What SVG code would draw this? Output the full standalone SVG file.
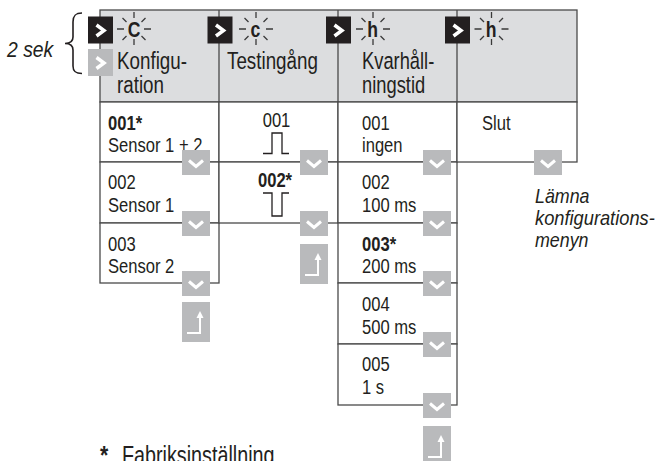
<svg xmlns="http://www.w3.org/2000/svg" xmlns:xlink="http://www.w3.org/1999/xlink" width="665" height="461" viewBox="0 0 665 461">
<style>
.bg{fill:#ffffff}
.hd{fill:#dcdddf;stroke:#4a4a4a;stroke-width:1.3}
.cell{fill:#ffffff;stroke:#4a4a4a;stroke-width:1.3}
.ln{stroke:#4a4a4a;stroke-width:1.3;fill:none}
.t{font-family:"Liberation Sans",Arial,sans-serif;font-size:21px;fill:#231f20}
.th{font-family:"Liberation Sans",Arial,sans-serif;font-size:23.5px;fill:#231f20}
.tf{font-family:"Liberation Sans",Arial,sans-serif;font-size:25px;fill:#231f20}
.b{font-weight:bold}
.i{font-style:italic}
.m{text-anchor:middle}
.sl{font-family:"Liberation Sans",Arial,sans-serif;font-size:22px;font-weight:bold;fill:#231f20;text-anchor:middle}
.ray{stroke:#3a3a3a;stroke-width:1.3;fill:none}
.pulse{stroke:#231f20;stroke-width:1.3;fill:none}
.gbox{fill:#b9babc}
.kbox{fill:#231f20}
.wch{stroke:#ffffff;stroke-width:3;fill:none}
.wnx{stroke:#ffffff;stroke-width:3.5;fill:none}
</style>
<defs>
<g id="sun"><path class="ray" d="M-17,0H-10M10,0H17M0,-17V-11M0,10V16M-7.5,-7L-11.5,-11M7.5,-7L11.5,-11M-7.5,7L-11.5,11M7.5,7L11.5,11"/></g>
<g id="dn"><rect class="gbox" width="28" height="25"/><path class="wch" d="M7,10.5L14,16.5L21,10.5"/></g>
<g id="ret"><rect class="gbox" width="28" height="40"/><path d="M5,31H18V14" stroke="#fff" stroke-width="2" fill="none"/><path d="M14.5,16L18,9L21.5,16Z" fill="#fff"/></g>
<g id="nxk"><rect class="kbox" width="25" height="27"/><path class="wnx" d="M8.5,8.5L16,14L8.5,19.5"/></g>
<g id="nxg"><rect class="gbox" width="25" height="27"/><path class="wnx" d="M8.5,8.5L16,14L8.5,19.5"/></g>
</defs>
<rect class="bg" width="665" height="461"/>

<g id="label-2sek">
<text class="t i" style="font-size:22px" transform="translate(7,56.5) scale(0.88,1)">2 sek</text>
<path d="M82,13C75,13 73,16 73,22V37C73,41 70,43.5 65,43.5C70,43.5 73,46 73,50V66C73,71 75,73.5 82,73.5" stroke="#231f20" stroke-width="1.6" fill="none"/>
</g>

<g id="header">
<rect class="hd" x="100" y="10" width="477" height="92"/>
<path class="ln" d="M219,10V102M338,10V102M457,10V102"/>
</g>

<g id="h-konfiguration">
<use xlink:href="#nxk" x="88" y="16.5"/>
<use xlink:href="#nxg" x="88" y="49"/>
<use xlink:href="#sun" x="134" y="29"/>
<text class="sl" transform="translate(134,37) scale(0.8,1)">C</text>
<text class="th" transform="translate(117,68.5) scale(0.8,1)">Konfigu-</text>
<text class="th" transform="translate(117,93) scale(0.8,1)">ration</text>
</g>

<g id="h-testingang">
<use xlink:href="#nxk" x="207.5" y="16.5"/>
<use xlink:href="#sun" x="256" y="29"/>
<text class="sl" transform="translate(255.5,37) scale(0.8,1)">c</text>
<text class="th" transform="translate(227,68.5) scale(0.8,1)">Testingång</text>
</g>

<g id="h-kvarhallningstid">
<use xlink:href="#nxk" x="326" y="16.5"/>
<use xlink:href="#sun" x="373" y="29"/>
<text class="sl" transform="translate(372.5,37) scale(0.8,1)">h</text>
<text class="th" transform="translate(362,68.5) scale(0.78,1)">Kvarhåll-</text>
<text class="th" transform="translate(362,93) scale(0.78,1)">ningstid</text>
</g>

<g id="h-slut">
<use xlink:href="#nxk" x="445" y="16.5"/>
<use xlink:href="#sun" x="491.5" y="29"/>
<text class="sl" transform="translate(491,37) scale(0.8,1)">h</text>
</g>

<g id="c1-001">
<rect class="cell" x="100" y="102" width="119" height="60"/>
<text class="t b" transform="translate(108,129.5) scale(0.79,1)">001*</text>
<text class="t" transform="translate(108,152) scale(0.79,1)">Sensor 1 + 2</text>
</g>
<g id="c1-002">
<rect class="cell" x="100" y="162" width="119" height="61"/>
<text class="t" transform="translate(108,189) scale(0.79,1)">002</text>
<text class="t" transform="translate(108,211.5) scale(0.79,1)">Sensor 1</text>
</g>
<g id="c1-003">
<rect class="cell" x="100" y="223" width="119" height="60"/>
<text class="t" transform="translate(108,250.5) scale(0.79,1)">003</text>
<text class="t" transform="translate(108,273) scale(0.79,1)">Sensor 2</text>
</g>

<g id="c2-001">
<rect class="cell" x="219" y="102" width="119" height="60"/>
<text class="t m" transform="translate(276.5,126.5) scale(0.79,1)">001</text>
<path class="pulse" d="M263,153.5H272V133H282V153.5H289"/>
</g>
<g id="c2-002">
<rect class="cell" x="219" y="162" width="119" height="61"/>
<text class="t b m" transform="translate(275,187) scale(0.79,1)">002*</text>
<path class="pulse" d="M263,193H272V216H282V193H289"/>
</g>

<g id="c3-001">
<rect class="cell" x="338" y="102" width="119" height="60"/>
<text class="t" transform="translate(362,129.5) scale(0.79,1)">001</text>
<text class="t" transform="translate(362,152) scale(0.79,1)">ingen</text>
</g>
<g id="c3-002">
<rect class="cell" x="338" y="162" width="119" height="61"/>
<text class="t" transform="translate(362,189) scale(0.79,1)">002</text>
<text class="t" transform="translate(362,211.5) scale(0.79,1)">100 ms</text>
</g>
<g id="c3-003">
<rect class="cell" x="338" y="223" width="119" height="60"/>
<text class="t b" transform="translate(362,250.5) scale(0.79,1)">003*</text>
<text class="t" transform="translate(362,273) scale(0.79,1)">200 ms</text>
</g>
<g id="c3-004">
<rect class="cell" x="338" y="283" width="119" height="61"/>
<text class="t" transform="translate(362,310.5) scale(0.79,1)">004</text>
<text class="t" transform="translate(362,333.5) scale(0.79,1)">500 ms</text>
</g>
<g id="c3-005">
<rect class="cell" x="338" y="344" width="119" height="61"/>
<text class="t" transform="translate(362,371) scale(0.79,1)">005</text>
<text class="t" transform="translate(362,394) scale(0.79,1)">1 s</text>
</g>

<g id="c4-slut">
<rect class="cell" x="457" y="102" width="120" height="60"/>
<text class="t" transform="translate(482,129.5) scale(0.79,1)">Slut</text>
</g>

<g id="connectors">
<use xlink:href="#dn" x="182" y="150"/>
<use xlink:href="#dn" x="182" y="211"/>
<use xlink:href="#dn" x="182" y="271"/>
<use xlink:href="#ret" x="182" y="302"/>
<use xlink:href="#dn" x="300" y="150"/>
<use xlink:href="#dn" x="300" y="211"/>
<use xlink:href="#ret" x="300" y="244"/>
<use xlink:href="#dn" x="423" y="150"/>
<use xlink:href="#dn" x="423" y="211"/>
<use xlink:href="#dn" x="423" y="271"/>
<use xlink:href="#dn" x="423" y="332"/>
<use xlink:href="#dn" x="423" y="393"/>
<use xlink:href="#ret" x="423" y="426"/>
<use xlink:href="#dn" x="534" y="150"/>
</g>

<g id="note-exit">
<text class="t i" transform="translate(535,203) scale(0.85,1)">Lämna</text>
<text class="t i" transform="translate(535,225) scale(0.87,1)">konfigurations-</text>
<text class="t i" transform="translate(535,247) scale(0.85,1)">menyn</text>
</g>

<g id="footnote">
<text class="tf b" transform="translate(100,464) scale(0.85,1)">*</text>
<text class="tf" transform="translate(122,464) scale(0.79,1)">Fabriksinställning</text>
</g>
</svg>
